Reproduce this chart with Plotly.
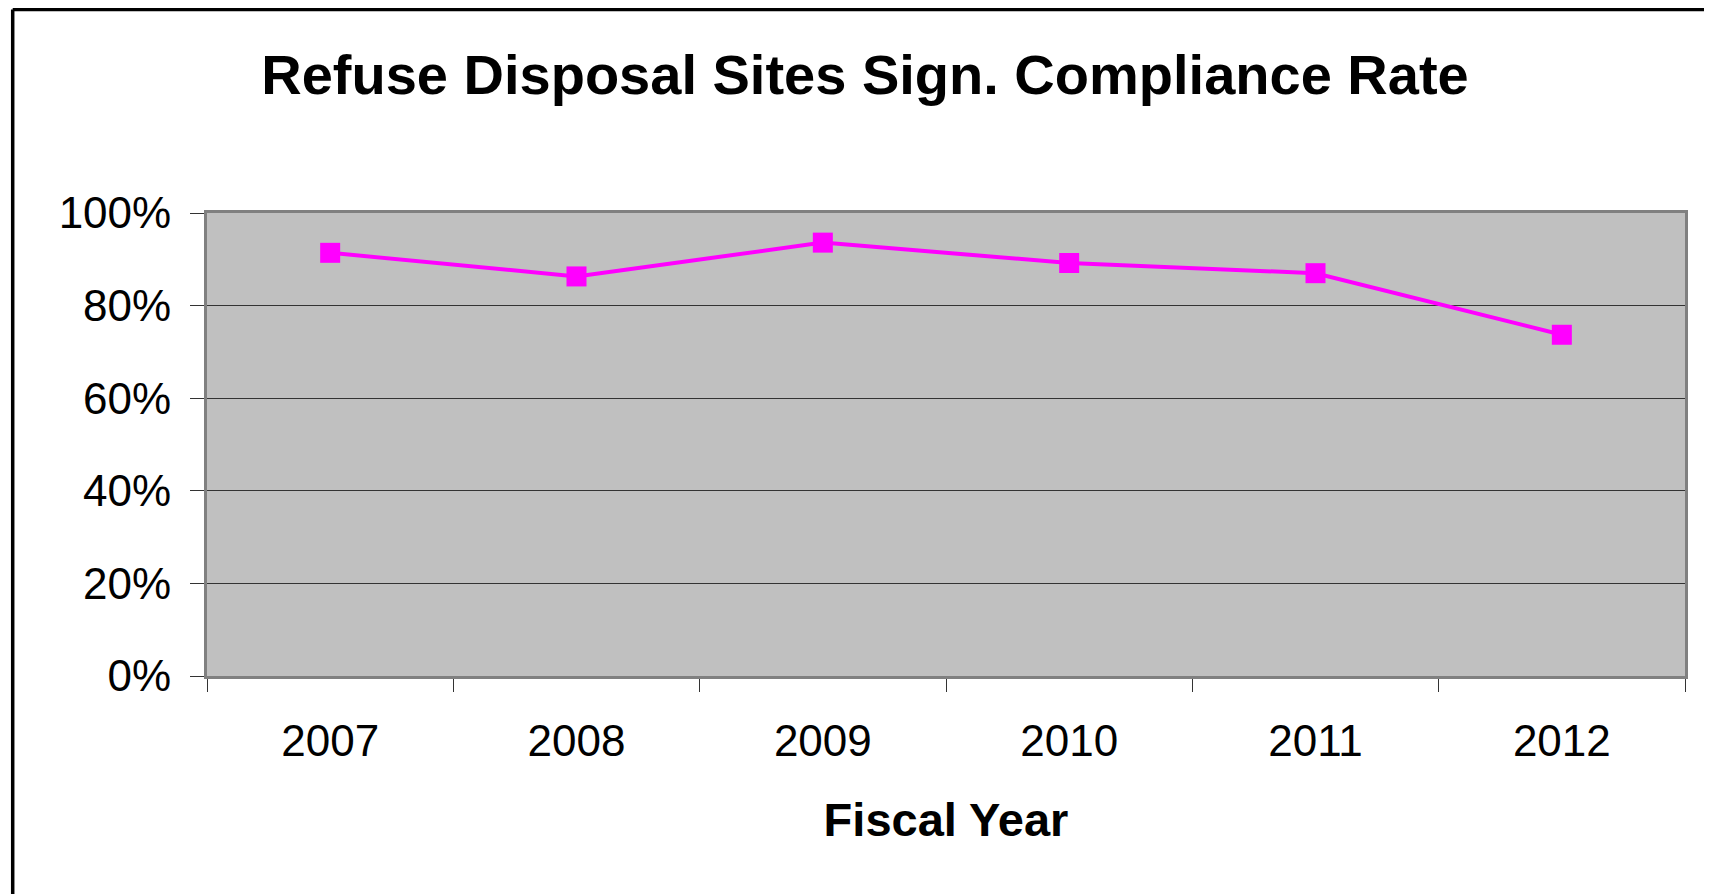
import plotly.graph_objects as go

years = ["2007", "2008", "2009", "2010", "2011", "2012"]
compliance = [0.914, 0.863, 0.936, 0.892, 0.870, 0.737]
y_ticks = [0, 0.2, 0.4, 0.6, 0.8, 1.0]
y_tick_labels = ["0%", "20%", "40%", "60%", "80%", "100%"]

W, H = 1712, 894
FONT = "Liberation Sans, Arial, sans-serif"

# plot area in figure coordinates (page has an 8px body offset)
PL, PR, PT, PB = 199, 1677, 205, 668
PW, PH = PR - PL, PB - PT

fig = go.Figure()
fig.add_trace(go.Scatter(
    x=years, y=compliance, mode="lines+markers",
    line=dict(color="#FF00FF", width=4),
    marker=dict(symbol="square", size=20, color="#FF00FF", line=dict(width=0)),
    showlegend=False, hoverinfo="x+y",
))

top_y = 1 + (PT - 1.5) / PH
left_x = (4.7 - PL) / PW

fig.update_layout(
    width=W, height=H,
    margin=dict(l=PL, r=W - PR, t=PT, b=H - PB),
    paper_bgcolor="white", plot_bgcolor="#C0C0C0",
    font=dict(family=FONT, color="black"),
    title=dict(
        text="<b>Refuse Disposal Sites Sign. Compliance Rate</b>",
        font=dict(size=56, family=FONT, color="black"),
        xref="container", x=857 / W, xanchor="center",
        yref="container", y=1 - 66 / H, yanchor="middle",
    ),
    shapes=[
        dict(type="line", xref="paper", yref="paper",
             x0=left_x, x1=2, y0=top_y, y1=top_y,
             line=dict(color="black", width=3.5)),
        dict(type="line", xref="paper", yref="paper",
             x0=left_x, x1=left_x, y0=top_y, y1=-2,
             line=dict(color="black", width=3.5)),
    ],
)

fig.update_xaxes(
    type="category", range=[-0.5, 5.5],
    showgrid=False, ticks="outside", ticklen=13, tickcolor="#333",
    tickson="boundaries",
    tickfont=dict(size=44, family=FONT), ticklabelstandoff=24,
    showline=True, linecolor="#808080", linewidth=3, mirror=True,
    title=dict(text="<b>Fiscal Year</b>", font=dict(size=47, family=FONT), standoff=40),
    zeroline=False,
)
fig.update_yaxes(
    range=[0, 1.0], tickvals=y_ticks, ticktext=y_tick_labels,
    showgrid=True, gridcolor="#333333", gridwidth=1,
    ticks="outside", ticklen=14, tickcolor="#333",
    tickfont=dict(size=44, family=FONT), ticklabelstandoff=10,
    showline=True, linecolor="#808080", linewidth=3, mirror=True,
    zeroline=False,
)

fig.write_html("out.html")
